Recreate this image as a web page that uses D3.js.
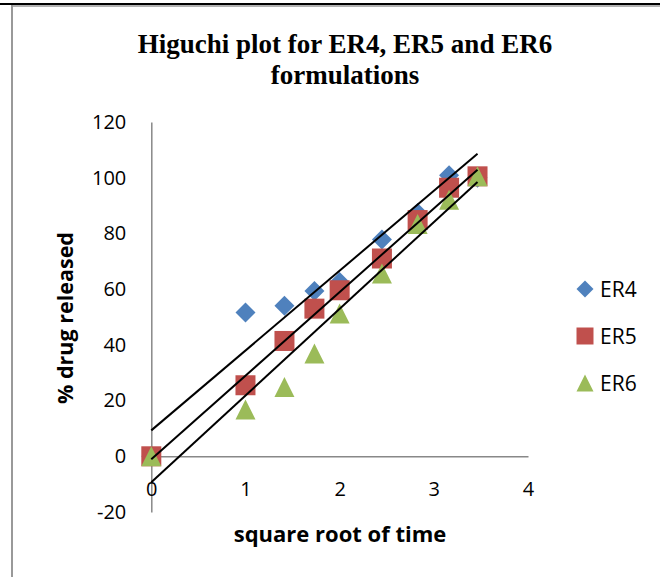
<!DOCTYPE html>
<html>
<head>
<meta charset="utf-8">
<script src="https://cdn.jsdelivr.net/npm/d3@7"></script>
<style>
  body { margin: 0; background: #fff; }
  .tick text { font-family: "Open Sans", sans-serif; font-size: 20px; fill: #000; }
</style>
</head>
<body>
<div id="chart"></div>
<script>
// data (x = square root of time)
var sqrtTime = [0, 1, 1.414, 1.732, 2, 2.449, 2.828, 3.162, 3.464];
var er4 = [0, 51.6, 54.0, 59.3, 62.6, 77.8, 87.3, 100.9, 100];
var er5 = [0, 25.5, 41.4, 53.0, 59.6, 71.0, 84.8, 96.4, 100.5];
var er6 = [0, 16.8, 24.9, 36.9, 51.3, 65.6, 83.4, 92.1, 100.5];
var seriesNames = ["ER4", "ER5", "ER6"];
// linear trendlines, value at x = 0 and at x = last point
var trendStart = [9.3, -1.1, -9.3];
var trendEnd = [108.6, 102.9, 98.5];
var yTicks = [-20, 0, 20, 40, 60, 80, 100, 120];
var xTicks = [0, 1, 2, 3, 4];

var colors = ["#4f81bd", "#c0504d", "#9bbb59"];
var shapes = ["diamond", "square", "triangle"];

var width = 660, height = 577;

var svg = d3.select("#chart")
  .append("svg")
  .attr("width", width)
  .attr("height", height);

// frame lines round the picture
svg.append("rect").attr("x", 0).attr("y", 3).attr("width", width).attr("height", 2).attr("fill", "#000");
svg.append("line").attr("x1", 11).attr("x2", width).attr("y1", 6).attr("y2", 6)
  .attr("stroke", "#999").attr("stroke-width", 1.5);
svg.append("line").attr("x1", 12).attr("x2", 12).attr("y1", 5).attr("y2", height)
  .attr("stroke", "#999").attr("stroke-width", 2);

// scales
var xScale = d3.scaleLinear().domain([0, 4]).range([151.3, 528]);
var yScale = d3.scaleLinear().domain([-20, 120]).range([512, 122]);

// marker paths, r = half size
function marker(shape, r) {
  if (shape === "diamond") return "M0," + (-r) + "L" + r + ",0L0," + r + "L" + (-r) + ",0Z";
  if (shape === "square") return "M" + (-r) + "," + (-r) + "H" + r + "V" + r + "H" + (-r) + "Z";
  return "M0," + (-r) + "L" + r + "," + r + "L" + (-r) + "," + r + "Z";
}

// title
var title = svg.append("text")
  .attr("text-anchor", "middle")
  .style("font-family", "'Liberation Serif', serif")
  .style("font-weight", "bold")
  .style("font-size", "27px");
title.append("tspan").attr("x", 345).attr("y", 53).text("Higuchi plot for ER4, ER5 and ER6");
title.append("tspan").attr("x", 345).attr("y", 84).text("formulations");

// axes
var plain = function(d) { return String(d); };
var yAxis = d3.axisLeft(yScale).tickValues(yTicks).tickFormat(plain).tickSize(0).tickPadding(25);
var xAxis = d3.axisBottom(xScale).tickValues(xTicks).tickFormat(plain).tickSize(0).tickPadding(26);

svg.append("g")
  .attr("class", "y axis")
  .attr("transform", "translate(" + xScale(0) + ",0)")
  .call(yAxis)
  .select(".domain").attr("stroke", "#888").attr("stroke-width", 1.5);

svg.append("g")
  .attr("class", "x axis")
  .attr("transform", "translate(0," + yScale(0) + ")")
  .call(xAxis)
  .select(".domain").attr("stroke", "#888").attr("stroke-width", 1.5);

// axis titles
svg.append("text")
  .attr("x", 340).attr("y", 542)
  .attr("text-anchor", "middle")
  .style("font-family", "'Open Sans', sans-serif")
  .style("font-weight", "bold")
  .style("font-size", "22px")
  .text("square root of time");

svg.append("text")
  .attr("transform", "translate(73,318) rotate(-90)")
  .attr("text-anchor", "middle")
  .style("font-family", "'Open Sans', sans-serif")
  .style("font-weight", "bold")
  .style("font-size", "21.5px")
  .text("% drug released");

// points
var series = [er4, er5, er6];
series.forEach(function(vals, i) {
  svg.append("g").selectAll("path")
    .data(vals)
    .enter()
    .append("path")
    .attr("d", marker(shapes[i], 10))
    .attr("transform", function(d, j) { return "translate(" + xScale(sqrtTime[j]) + "," + yScale(d) + ")"; })
    .attr("fill", colors[i]);
});

// trendlines
var xLast = sqrtTime[sqrtTime.length - 1];
seriesNames.forEach(function(name, i) {
  svg.append("line")
    .attr("x1", xScale(0)).attr("y1", yScale(trendStart[i]))
    .attr("x2", xScale(xLast)).attr("y2", yScale(trendEnd[i]))
    .attr("stroke", "#000").attr("stroke-width", 2);
});

// legend
var legend = svg.append("g").selectAll("g")
  .data(seriesNames)
  .enter()
  .append("g")
  .attr("transform", function(d, i) { return "translate(585," + (289 + i * 47) + ")"; });

legend.append("path")
  .attr("d", function(d, i) { return marker(shapes[i], 8.5); })
  .attr("fill", function(d, i) { return colors[i]; });

legend.append("text")
  .attr("x", 15).attr("y", 8)
  .style("font-family", "'Open Sans', sans-serif")
  .style("font-size", "21px")
  .text(function(d) { return d; });
</script>
</body>
</html>
